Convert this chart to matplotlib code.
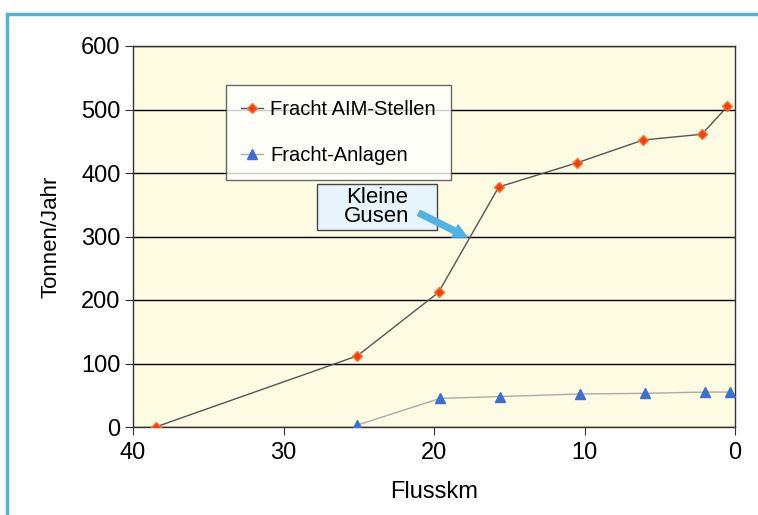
import matplotlib
matplotlib.use("Agg")
import matplotlib.pyplot as plt
from matplotlib.patches import Rectangle

plt.rcParams['font.family'] = ['Liberation Sans', 'DejaVu Sans']

km_aim = [38.5, 25.1, 19.7, 15.7, 10.5, 6.1, 2.2, 0.5]
fracht_aim = [0, 112, 212, 378, 416, 452, 461, 505]
km_anl = [25.1, 19.6, 15.6, 10.3, 6.0, 2.0, 0.3]
fracht_anl = [3, 45, 48, 52, 53, 55, 55]
xticks = [40, 30, 20, 10, 0]
yticks = [0, 100, 200, 300, 400, 500, 600]

fig = plt.figure(figsize=(7.58, 5.15), dpi=100)
fig.patch.set_facecolor('white')
fig.patches.append(Rectangle((7/758, -0.05), 1.2, 1 - 14/515 + 0.05, transform=fig.transFigure,
                             fill=False, edgecolor='#4fb3d9', linewidth=2.5))

ax = fig.add_axes([133/758, 1 - 427/515, 602/758, 381/515])
ax.set_facecolor('#fdfbe2')
ax.set_xlim(40, 0)
ax.set_ylim(0, 600)
ax.set_xticks(xticks)
ax.set_yticks(yticks)
ax.yaxis.grid(True, color='black', linewidth=1)
ax.set_axisbelow(True)
for s in ax.spines.values():
    s.set_color('#333333')
    s.set_linewidth(1)
ax.tick_params(axis='both', labelsize=17, direction='out', length=6, color='#333333')
ax.tick_params(axis='x', pad=5)
ax.tick_params(axis='y', pad=3)

ax.plot(km_aim, fracht_aim, color='#555555', linewidth=1, marker='D', markersize=5,
        markerfacecolor='#f23c1a', markeredgecolor='#f57a2a', label='Fracht AIM-Stellen', zorder=3)
ax.plot(km_anl, fracht_anl, color='#aaaaaa', linewidth=1, linestyle='-', marker='^', markersize=7,
        markerfacecolor='#3d6fd0', markeredgecolor='#3d6fd0', label='Fracht-Anlagen', zorder=3)

leg = ax.legend(loc='upper left', bbox_to_anchor=(93/602, 1 - 39/381), fontsize=14.5,
                frameon=True, fancybox=False, edgecolor='#444444', borderpad=0.75,
                labelspacing=1.35, handlelength=1.1, handletextpad=0.35, borderaxespad=0)
leg.get_frame().set_linewidth(1)
leg.get_frame().set_facecolor('white')

# annotation box
box = Rectangle((19.8, 310), 8.0, 73, facecolor='#e8f4fb', edgecolor='#444444',
                linewidth=1, zorder=3.5)
ax.add_patch(box)
ax.text(23.8, 346, 'Kleine\nGusen', fontsize=16, ha='center', va='center', linespacing=0.9,
        zorder=4)
ax.annotate('', xy=(17.8, 299), xytext=(21.0, 337),
            arrowprops=dict(arrowstyle='simple,head_width=0.7,head_length=0.7,tail_width=0.3',
                            facecolor='#4fb3e6', edgecolor='#4fb3e6', shrinkA=0, shrinkB=0,
                            mutation_scale=14), zorder=5)

ax.set_xlabel('Flusskm', fontsize=17, labelpad=12)
ax.set_ylabel('Tonnen/Jahr', fontsize=16, labelpad=14)

fig.savefig('out.png', dpi=100)
